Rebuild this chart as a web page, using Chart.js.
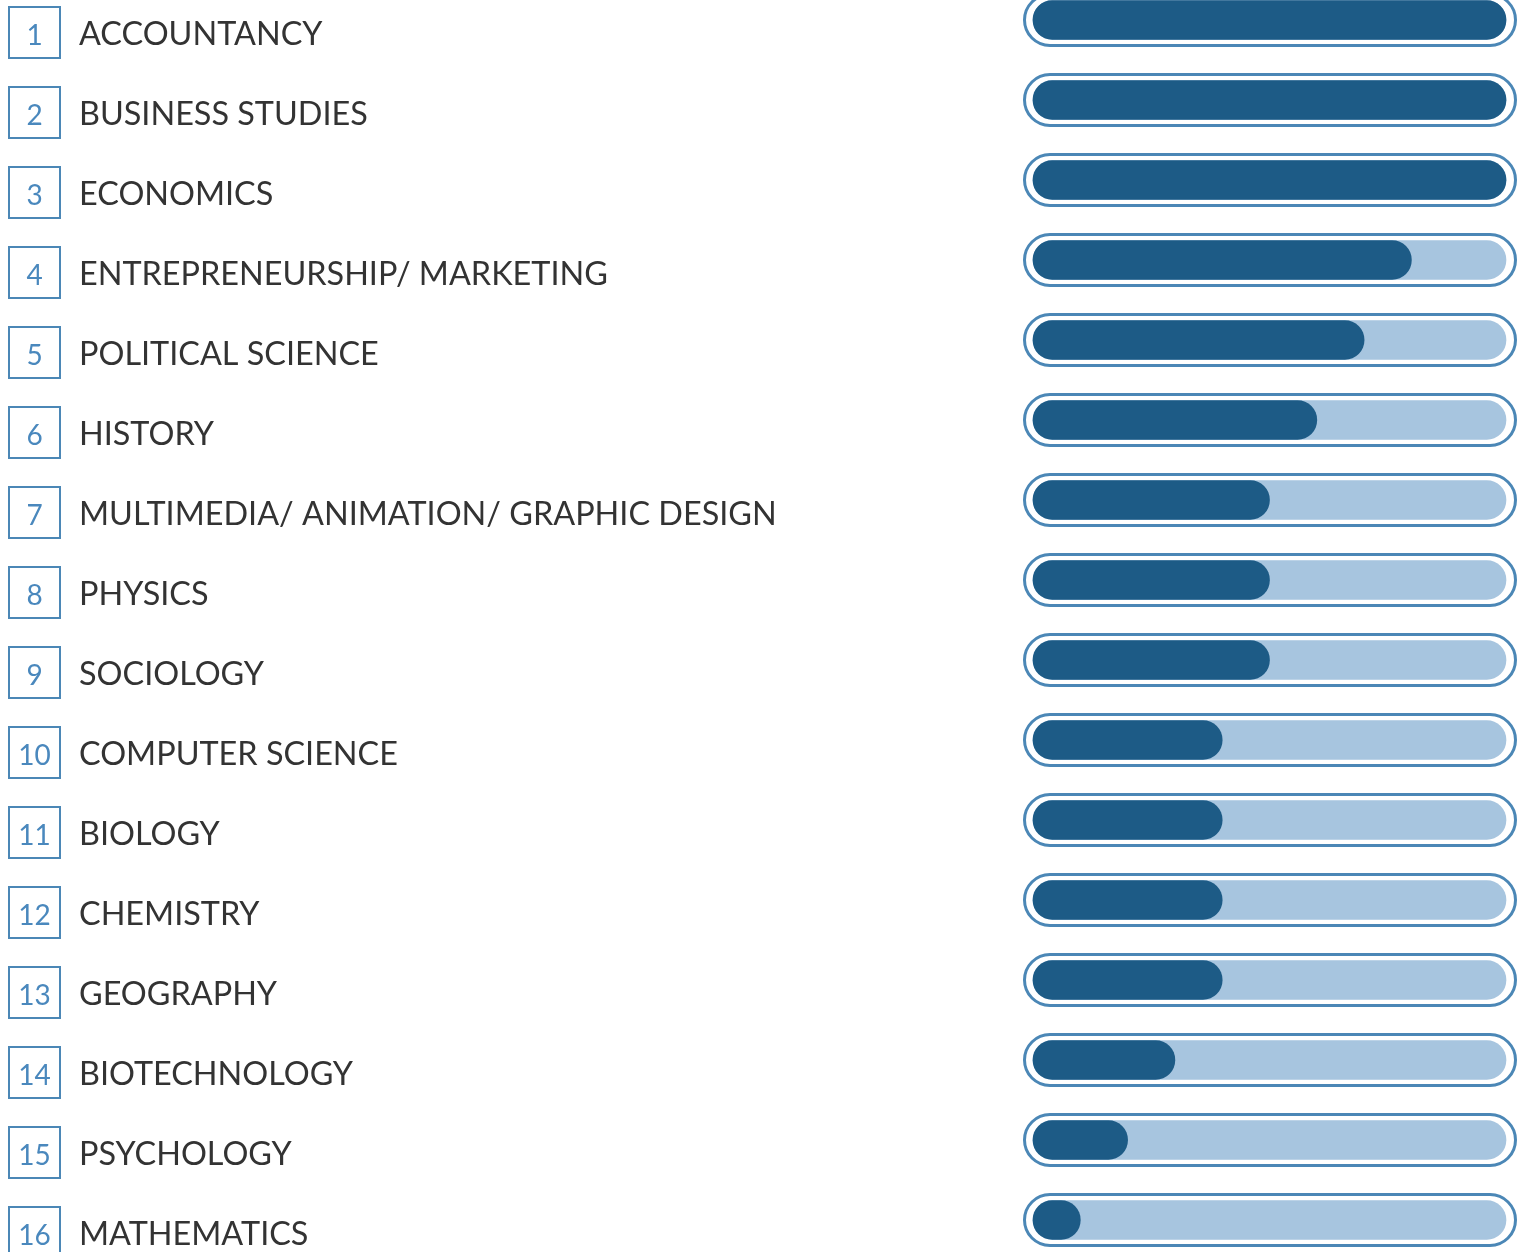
<!DOCTYPE html>
<html>
<head>
<meta charset="utf-8">
<script src="https://cdn.jsdelivr.net/npm/chart.js@4.4.1/dist/chart.umd.min.js"></script>
<style>
    body { margin: 0; background: #ffffff; overflow: hidden; }
    #wrap { width: 1523px; height: 1252px; }
</style>
</head>
<body>
<div id="wrap"><canvas id="subjectChart"></canvas></div>
<script>
const subjects = [
    "ACCOUNTANCY",
    "BUSINESS STUDIES",
    "ECONOMICS",
    "ENTREPRENEURSHIP/ MARKETING",
    "POLITICAL SCIENCE",
    "HISTORY",
    "MULTIMEDIA/ ANIMATION/ GRAPHIC DESIGN",
    "PHYSICS",
    "SOCIOLOGY",
    "COMPUTER SCIENCE",
    "BIOLOGY",
    "CHEMISTRY",
    "GEOGRAPHY",
    "BIOTECHNOLOGY",
    "PSYCHOLOGY",
    "MATHEMATICS",
];
const ranks = ["1", "2", "3", "4", "5", "6", "7", "8", "9", "10", "11", "12", "13", "14", "15", "16"];
const scores = [10, 10, 10, 8, 7, 6, 5, 5, 5, 4, 4, 4, 4, 3, 2, 1];
const maxScore = 10;
const trackValues = subjects.map(() => maxScore);

const darkBlue = "#1d5b86";
const lightBlue = "#a7c5df";
const ringBlue = "#4b87b6";

const ctx = document.getElementById("subjectChart");

// outline pill around each track bar
const ringPlugin = {
    id: "ringPlugin",
    beforeDatasetsDraw(chart) {
        const meta = chart.getDatasetMeta(1);
        const c = chart.ctx;
        c.save();
        c.strokeStyle = ringBlue;
        c.lineWidth = 3;
        meta.data.forEach((bar) => {
            const left = bar.base - 8.5;
            const right = bar.x + 9.5;
            const h = 51;
            c.beginPath();
            c.roundRect(left, bar.y - h / 2, right - left, h, h / 2);
            c.stroke();
        });
        c.restore();
    },
};

// numbered boxes left of the labels
const rankPlugin = {
    id: "rankPlugin",
    afterDraw(chart) {
        const yScale = chart.scales.y;
        const c = chart.ctx;
        c.save();
        ranks.forEach((rank, i) => {
            const cy = yScale.getPixelForTick(i) + 12.5;
            const cx = yScale.left - 44.5;
            c.strokeStyle = ringBlue;
            c.lineWidth = 2;
            c.strokeRect(cx - 25.5, cy - 25.5, 51, 51);
            c.fillStyle = "#4a88bd";
            c.font = "28px Lato";
            c.textAlign = "center";
            c.textBaseline = "middle";
            c.fillText(rank, cx, cy + 3);
        });
        c.restore();
    },
};

new Chart(ctx, {
    type: "bar",
    data: {
        labels: subjects,
        datasets: [
            {
                label: "score",
                data: scores,
                backgroundColor: darkBlue,
                borderRadius: 20,
                borderSkipped: false,
                barThickness: 39,
                clip: false,
            },
            {
                label: "track",
                data: trackValues,
                backgroundColor: lightBlue,
                borderRadius: 20,
                borderSkipped: false,
                barThickness: 39,
                clip: false,
            },
        ],
    },
    options: {
        indexAxis: "y",
        responsive: true,
        maintainAspectRatio: false,
        animation: false,
        layout: {
            padding: { left: 79, right: 17, top: 20, bottom: 32 },
        },
        scales: {
            x: {
                display: false,
                min: 0,
                max: maxScore,
            },
            y: {
                offset: false,
                grid: { display: false },
                border: { display: false },
                afterFit: (scale) => {
                    scale.width = 954;
                    scale.paddingTop = 0;
                    scale.paddingBottom = 0;
                },
                ticks: {
                    autoSkip: false,
                    crossAlign: "far",
                    labelOffset: 15,
                    color: "#333333",
                    font: { family: "Lato", size: 32.4 },
                },
            },
        },
        datasets: {
            bar: { grouped: false },
        },
        plugins: {
            legend: { display: false },
            tooltip: { enabled: false },
        },
    },
    plugins: [ringPlugin, rankPlugin],
});
</script>
</body>
</html>
